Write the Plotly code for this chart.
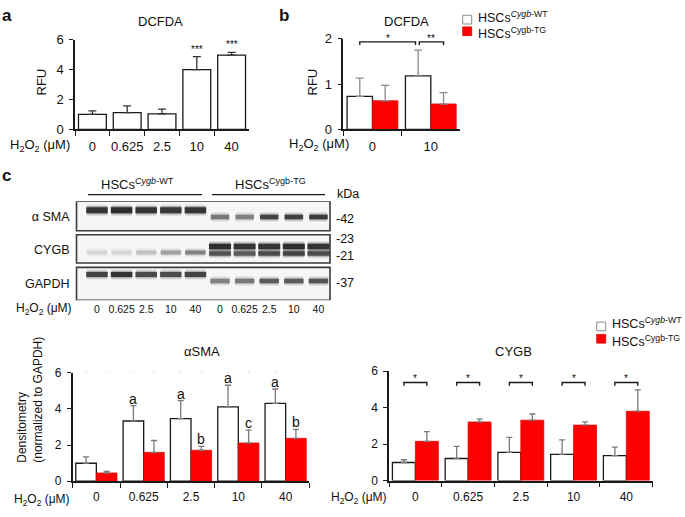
import plotly.graph_objects as go

W, H = 685, 517
def X(px): return px / W
def Y(py): return 1 - py / H

FONT = "Liberation Sans, Arial, Helvetica, sans-serif"
RED = "#ff0000"
INK = "#1a1a1a"

# ---------------- data ----------------
doses = ["0", "0.625", "2.5", "10", "40"]
a_rfu = [1.0, 1.12, 1.03, 4.0, 4.97]
a_err = [0.24, 0.45, 0.32, 0.87, 0.18]
a_sig = ["", "", "", "***", "***"]

b_doses = ["0", "10"]
b_wt = [0.73, 1.18]
b_wt_err = [0.40, 0.57]
b_tg = [0.63, 0.56]
b_tg_err = [0.34, 0.25]

sma_wt = [0.99, 3.33, 3.46, 4.11, 4.30]
sma_wt_err = [0.35, 0.85, 1.0, 1.2, 0.8]
sma_tg = [0.45, 1.59, 1.71, 2.11, 2.37]
sma_tg_err = [0.09, 0.66, 0.22, 0.71, 0.5]
sma_wt_letters = ["", "a", "a", "a", "a"]
sma_tg_letters = ["", "", "b", "c", "b"]

cygb_wt = [0.99, 1.21, 1.55, 1.43, 1.37]
cygb_wt_err = [0.15, 0.66, 0.82, 0.8, 0.46]
cygb_tg = [2.15, 3.21, 3.31, 3.04, 3.8]
cygb_tg_err = [0.53, 0.16, 0.34, 0.18, 1.17]

# western blot: rows, lanes and band intensities (0..1)
blot_rows = ["α SMA", "CYGB", "GAPDH"]
lane_doses = doses + doses
sma_band = [0.95, 1.0, 0.95, 0.92, 0.95, 0.55, 0.5, 0.85, 0.88, 0.9]
cygb_upper_band = [0, 0, 0, 0, 0, 1.0, 0.95, 0.95, 1.0, 0.95]
cygb_lower_band = [0.12, 0.12, 0.2, 0.35, 0.5, 0.75, 0.7, 0.8, 0.85, 0.8]
gapdh_band = [0.85, 0.95, 0.8, 0.8, 0.85, 0.5, 0.55, 0.7, 0.7, 0.75]
kda_labels = ["-42", "-23", "-21", "-37"]
kda_rows = [0.07, 0.68, 1.17, 1.98]

WT_NAME = "HSCs<sup><i>Cygb</i>-WT</sup>"
TG_NAME = "HSCs<sup>Cygb-TG</sup>"

fig = go.Figure()

BW = 0.435  # grouped bar width (category units)

def err(arr, color, width=3, th=1.3):
    return dict(type="data", array=arr, arrayminus=[0] * len(arr), symmetric=False,
                color=color, thickness=th, width=width)

# panel a
fig.add_trace(go.Bar(x=doses, y=a_rfu, xaxis="x", yaxis="y", width=0.8,
                     marker=dict(color="white", line=dict(color=INK, width=1.3)),
                     error_y=err(a_err, "#333333", 4), showlegend=False, name="DCFDA"))

# panel b
fig.add_trace(go.Bar(x=b_doses, y=b_wt, xaxis="x2", yaxis="y2", offset=-BW, width=BW,
                     marker=dict(color="white", line=dict(color=INK, width=1.3)),
                     error_y=err(b_wt_err, "#8a8a8a", 4), showlegend=False, name="HSCs Cygb-WT"))
fig.add_trace(go.Bar(x=b_doses, y=b_tg, xaxis="x2", yaxis="y2", offset=0, width=BW,
                     marker=dict(color=RED, line=dict(color="#e00000", width=0.8)),
                     error_y=err(b_tg_err, "#8a8a8a", 4), showlegend=False, name="HSCs Cygb-TG"))

# bottom panels
for xa, ya, wt, wte, tg, tge in [("x3", "y3", sma_wt, sma_wt_err, sma_tg, sma_tg_err),
                                 ("x4", "y4", cygb_wt, cygb_wt_err, cygb_tg, cygb_tg_err)]:
    fig.add_trace(go.Bar(x=doses, y=wt, xaxis=xa, yaxis=ya, offset=-BW, width=BW,
                         marker=dict(color="white", line=dict(color=INK, width=1.3)),
                         error_y=err(wte, "#7a7a7a", 3), showlegend=False, name="HSCs Cygb-WT"))
    fig.add_trace(go.Bar(x=doses, y=tg, xaxis=xa, yaxis=ya, offset=0, width=BW,
                         marker=dict(color=RED, line=dict(color="#e00000", width=0.8)),
                         error_y=err(tge, "#7a7a7a", 3), showlegend=False, name="HSCs Cygb-TG"))

# ---------------- blot bands ----------------
def band(lane, yc, inten, half, w):
    if inten <= 0:
        return
    for extra, shrink, alpha in [(5, 0.03, 0.12), (2.5, 0.015, 0.25), (0, 0.0, 0.8)]:
        fig.add_trace(go.Scatter(x=[lane - half + shrink, lane + half - shrink], y=[yc, yc],
                                 xaxis="x5", yaxis="y5", mode="lines", hoverinfo="skip",
                                 showlegend=False,
                                 line=dict(color=f"rgba(15,15,15,{alpha * inten:.3f})", width=w + extra)))

for i in range(10):
    wt = i < 5
    band(i, 0 + (-0.18 if wt else 0.02), sma_band[i], 0.44 if wt else 0.38, 6 if wt else 4.5)
    band(i, 1 - 0.10, cygb_upper_band[i], 0.45, 5.5)
    band(i, 1 + (0.08 if wt else 0.11), cygb_lower_band[i], 0.42 if wt else 0.45, 4 if wt else 4.5)
    band(i, 2 + (-0.27 if wt else -0.07), gapdh_band[i], 0.44 if wt else 0.4, 5 if wt else 4.5)

# ---------------- axes ----------------
def cat_x(dom, anchor, n, fs):
    return dict(domain=[X(dom[0]), X(dom[1])], anchor=anchor, type="category", range=[-0.5, n - 0.5],
                tickson="boundaries", ticks="outside", ticklen=5, tickwidth=1.3, tickcolor=INK,
                showline=True, linecolor=INK, linewidth=1.5, showgrid=False, zeroline=False,
                tickangle=0, tickfont=dict(size=fs, color="#111"), ticklabelstandoff=4,
                fixedrange=True)

def lin_y(dom, anchor, rng, tv, fs):
    return dict(domain=[Y(dom[0]), Y(dom[1])], anchor=anchor, range=rng, tickvals=tv,
                ticks="outside", ticklen=4, tickwidth=1.3, tickcolor=INK,
                showline=True, linecolor=INK, linewidth=1.5, showgrid=False, zeroline=False,
                tickfont=dict(size=fs, color="#111"), ticklabelstandoff=3, fixedrange=True)

layout = dict(
    width=W, height=H, margin=dict(l=0, r=0, t=0, b=0),
    paper_bgcolor="white", plot_bgcolor="rgba(0,0,0,0)",
    font=dict(family=FONT, size=12, color="#111"),
    barmode="overlay", showlegend=False,
    xaxis=cat_x((75, 249), "y", 5, 13),
    yaxis=lin_y((126, 33.7), "x", [0, 6], [0, 2, 4, 6], 13),
    xaxis2=cat_x((343.3, 460), "y2", 2, 13),
    yaxis2=lin_y((126, 32.7), "x2", [0, 2], [0, 1, 2], 13),
    xaxis3=cat_x((72.7, 309.3), "y3", 5, 12),
    yaxis3=lin_y((488.3, 376.7), "x3", [0, 6], [0, 2, 4, 6], 12),
    xaxis4=cat_x((389, 652.7), "y4", 5, 12),
    yaxis4=lin_y((487.7, 375), "x4", [0, 6], [0, 2, 4, 6], 12),
    xaxis5=dict(domain=[X(76.5), X(330)], anchor="y5", range=[-0.833, 9.47],
                tickvals=list(range(10)), ticktext=lane_doses, ticks="", showline=False,
                showgrid=False, zeroline=False, tickangle=0, tickfont=dict(size=10.5),
                ticklabelstandoff=1, fixedrange=True),
    yaxis5=dict(domain=[Y(302), Y(200)], anchor="x5", range=[2.5, -0.45],
                tickvals=[0, 1, 2], ticktext=blot_rows, ticks="", showline=False, showgrid=False,
                zeroline=False, tickfont=dict(size=12.5), ticklabelstandoff=6, fixedrange=True),
)

shapes = []
ann = []

def text(x, y, s, size=12, xanchor="center", yanchor="middle", xref="paper", yref="paper", **kw):
    ann.append(dict(x=x, y=y, text=s, xref=xref, yref=yref, xanchor=xanchor, yanchor=yanchor,
                    showarrow=False, font=dict(size=size, family=FONT, color="#111111"), **kw))

# panel letters
text(X(0), Y(9), "<b>a</b>", 17, xanchor="left")
text(X(277), Y(9), "<b>b</b>", 17, xanchor="left")
text(X(0), Y(174), "<b>c</b>", 17, xanchor="left")

# titles
text(X(160), Y(15), "DCFDA", 13)
text(X(406.7), Y(15), "DCFDA", 13)
text(X(202), Y(354.5), "αSMA", 13)
text(X(513), Y(355), "CYGB", 13)

# y titles
text(X(41.7), Y(77), "RFU", 13, textangle=-90)
text(X(312.7), Y(77), "RFU", 13, textangle=-90)
text(X(30.5), Y(405), "Densitometry<br>(normalized to GAPDH)", 12, textangle=-90, align="left")

# H2O2 labels
H2O2 = "H<sub>2</sub>O<sub>2</sub> (μM)"
text(X(72), Y(143), H2O2, 13, xanchor="right")
text(X(351), Y(142), H2O2, 13, xanchor="right")
text(X(74), Y(311.5), H2O2, 12, xanchor="right")
text(X(72), Y(508), H2O2, 12, xanchor="right")
text(X(389), Y(506), H2O2, 12, xanchor="right")

# panel a significance
for i, s in enumerate(a_sig):
    if s:
        text(i, a_rfu[i] + a_err[i], s, 10, yanchor="bottom", xref="x", yref="y", yshift=0)

# brackets
def bracket(xref, yref, x0, x1, ytop, ybot, star, fs=10, yshift=-4):
    shapes.append(dict(type="path", xref=xref, yref=yref,
                       path=f"M {x0},{ybot} L {x0},{ytop} L {x1},{ytop} L {x1},{ybot}",
                       line=dict(color=INK, width=1.4)))
    text((x0 + x1) / 2, ytop, star, fs, yanchor="bottom", xref=xref, yref=yref, yshift=yshift)

c = BW / 2
bracket("x2", "y2", 0 - c, 1 - c - 0.045, 1.93, 1.86, "*")
bracket("x2", "y2", 1 - c + 0.02, 1 + c, 1.93, 1.86, "**")
for i in range(5):
    bracket("x3", "y3", i - c, i + c, 6.18, 6.0, "*")
    bracket("x4", "y4", i - c, i + c, 5.38, 5.2, "*")
    if sma_wt_letters[i]:
        text(i - c, sma_wt[i] + sma_wt_err[i], sma_wt_letters[i], 14, yanchor="bottom",
             xref="x3", yref="y3", yshift=-3)
    if sma_tg_letters[i]:
        text(i + c, sma_tg[i] + sma_tg_err[i], sma_tg_letters[i], 14, yanchor="bottom",
             xref="x3", yref="y3", yshift=-3)

# legends
def legend(px, py_wt, py_tg, size=12.5):
    s = 4.5
    shapes.append(dict(type="rect", xref="paper", yref="paper", x0=X(px), x1=X(px + 2 * s),
                       y0=Y(py_wt + s), y1=Y(py_wt - s), fillcolor="white",
                       line=dict(color="#8a8a8a", width=1)))
    shapes.append(dict(type="rect", xref="paper", yref="paper", x0=X(px), x1=X(px + 2 * s),
                       y0=Y(py_tg + s), y1=Y(py_tg - s), fillcolor=RED,
                       line=dict(color="#e00000", width=0.8)))
    text(X(px + 2 * s + 4), Y(py_wt), WT_NAME, size, xanchor="left", yanchor="bottom", yshift=-7)
    text(X(px + 2 * s + 4), Y(py_tg), TG_NAME, size, xanchor="left", yanchor="top", yshift=8)

legend(462.7, 13, 25)
legend(596.7, 329, 341.7)

# blot frames
frames = [(-0.45, 0.43), (0.55, 1.39), (1.52, 2.5)]
for y0, y1 in frames:
    shapes.append(dict(type="rect", xref="x5 domain", yref="y5", x0=0, x1=1, y0=y0, y1=y1,
                       fillcolor="#f6f6f6", line=dict(color="#3a3a3a", width=1.6), layer="below"))

# blot header
shapes.append(dict(type="line", xref="paper", yref="paper", x0=X(88), x1=X(202), y0=Y(193.3), y1=Y(193.3),
                   line=dict(color=INK, width=1.3)))
shapes.append(dict(type="line", xref="paper", yref="paper", x0=X(212), x1=X(325), y0=Y(193.3), y1=Y(193.3),
                   line=dict(color=INK, width=1.3)))
text(X(137), Y(182.5), WT_NAME, 13)
text(X(270), Y(182.5), TG_NAME, 13)
text(X(335), Y(193), "kDa", 12.5, xanchor="left")
for lab, r in zip(kda_labels, kda_rows):
    text(X(334), r, lab, 12.5, xanchor="left", yref="y5")

layout["shapes"] = shapes
layout["annotations"] = ann
fig.update_layout(**layout)
fig.write_html("out.html", config={"displayModeBar": False, "staticPlot": False},
               post_script="document.body.style.margin='0px';document.body.style.padding='0px';")
